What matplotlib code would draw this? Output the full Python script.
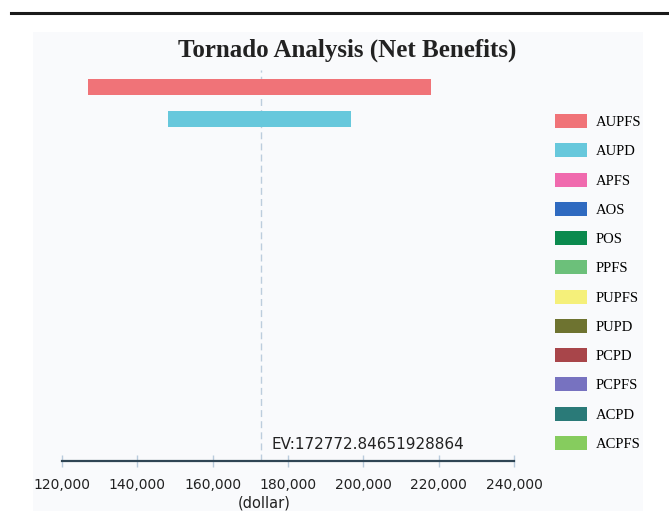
"""Tornado chart of net benefits (sensitivity of EV to each input)."""
import matplotlib
matplotlib.use("Agg")
import matplotlib.pyplot as plt
from matplotlib.lines import Line2D
from matplotlib.patches import Patch, Rectangle
from matplotlib.ticker import FuncFormatter

OUT_PATH = "out.png"

# Data
EV = 172772.84651928864
CATEGORIES = ["AUPFS", "AUPD", "APFS", "AOS", "POS", "PPFS",
              "PUPFS", "PUPD", "PCPD", "PCPFS", "ACPD", "ACPFS"]
LOW = [127000, 148200, EV, EV, EV, EV, EV, EV, EV, EV, EV, EV]
HIGH = [218000, 196700, EV, EV, EV, EV, EV, EV, EV, EV, EV, EV]
COLORS = ["#f07378", "#67c8dc", "#f06aae", "#2f6ac0", "#0b8a4e", "#6cc07a",
          "#f5f07a", "#6e7330", "#a8454a", "#7772c0", "#2a7a78", "#86cc5e"]
XTICKS = [120000, 140000, 160000, 180000, 200000, 220000, 240000]

fig = plt.figure(figsize=(6.69, 5.11), dpi=100)
fig.patch.set_facecolor("white")

# light panel behind the chart, and the black rule at the very top
fig.patches.append(Rectangle((33 / 669, 0), 610 / 669, 1 - 32 / 511,
                             transform=fig.transFigure, facecolor="#f9fafc",
                             edgecolor="none", zorder=-5))
fig.lines.append(Line2D([11 / 669, 1], [1 - 13 / 511, 1 - 13 / 511],
                        transform=fig.transFigure, color="#1a1a1a", lw=2.2))

ax = fig.add_axes([62 / 669, 1 - 461 / 511, 452 / 669, 390.5 / 511])
ax.set_facecolor("none")
ax.set_zorder(1)

y = list(range(len(CATEGORIES)))
widths = [h - l for l, h in zip(LOW, HIGH)]
ax.barh(y, widths, left=LOW, height=0.5, color=COLORS, zorder=2)
ax.axvline(EV, color="#bccddd", lw=1, ls=(0, (5, 3)), zorder=1)

ax.set_xlim(120000, 240000)
ax.set_ylim(len(CATEGORIES) - 0.5, -0.5)
ax.set_xticks(XTICKS)
ax.xaxis.set_major_formatter(FuncFormatter(lambda v, _: f"{v:,.0f}"))
ax.set_yticks([])
for side in ["top", "right", "left"]:
    ax.spines[side].set_visible(False)
ax.spines["bottom"].set_color("#2f4554")
ax.spines["bottom"].set_linewidth(1.6)
ax.tick_params(axis="x", direction="inout", length=8, width=1,
               color="#b9cbdc", labelsize=10, labelcolor="#222222", pad=8)

ax.set_xlabel("(dollar)", fontsize=10.5, color="#222222", labelpad=0)
ax.xaxis.set_label_coords((264 - 62) / 452, -0.088)

ax.text(EV + 2900, 11.0, f"EV:{EV}", fontsize=11, color="#222222",
        va="center", ha="left")

fig.text(347 / 669, 1 - 50 / 511, "Tornado Analysis (Net Benefits)",
         family="Liberation Serif", fontweight="bold", fontsize=18,
         ha="center", va="center", color="#222222")

handles = [Patch(facecolor=c, edgecolor="none") for c in COLORS]
fig.legend(handles, CATEGORIES, loc="upper left",
           bbox_to_anchor=(542 / 669, 1 - 101 / 511), frameon=False,
           prop={"family": "Liberation Serif", "size": 10.5},
           handlelength=2.2, handleheight=1.1, labelspacing=0.98,
           handletextpad=0.6)

fig.savefig(OUT_PATH, dpi=100)
